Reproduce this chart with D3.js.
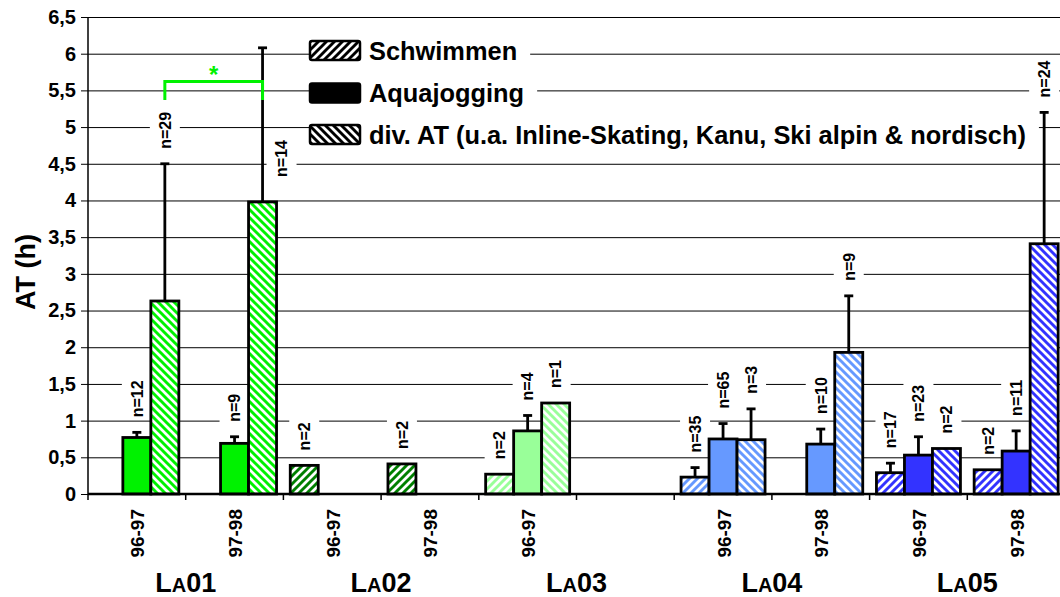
<!DOCTYPE html>
<html>
<head>
<meta charset="utf-8">
<script src="https://cdn.jsdelivr.net/npm/d3@7"></script>
<style>
  html, body { margin: 0; padding: 0; background: #fff; }
  svg { display: block; font-family: Arial, "Liberation Sans", sans-serif; }
</style>
</head>
<body>
<svg id="chart" width="1060" height="597"></svg>
<script>
// Season slots along the x axis (slot 5 is an empty spacer inside LA03)
const seasons = ["96-97", "97-98", "96-97", "97-98", "96-97", "", "96-97", "97-98", "96-97", "97-98"];
const groupOfSlot = [0, 0, 1, 1, 2, 2, 3, 3, 4, 4];
const groups = ["LA01", "LA02", "LA03", "LA04", "LA05"];
const groupColors = ["#00f200", "#008000", "#99ff99", "#6699ff", "#3333ff"];

const seriesNames = ["Schwimmen", "Aquajogging", "div. AT (u.a. Inline-Skating, Kanu, Ski alpin & nordisch)"];

// Mean training hours per series and slot
const schwimmen   = [null, null, 0.39, 0.41, 0.27, null, 0.23, null, 0.29, 0.33];
const aquajogging = [0.77, 0.69, null, null, 0.86, null, 0.75, 0.68, 0.53, 0.585];
const divAT       = [2.63, 3.98, null, null, 1.24, null, 0.74, 1.93, 0.62, 3.41];

// Standard deviations (upper whisker)
const schwimmenSD   = [null, null, null, null, null, null, 0.13, null, 0.13, null];
const aquajoggingSD = [0.07, 0.09, null, null, 0.21, null, 0.21, 0.205, 0.25, 0.275];
const divATSD       = [1.87, 2.10, null, null, null, null, 0.42, 0.77, null, 1.79];

// Sample sizes
const schwimmenN   = [null, null, 2, 2, 2, null, 35, null, 17, 2];
const aquajoggingN = [12, 9, null, null, 4, null, 65, 10, 23, 11];
const divATN       = [29, 14, null, null, 1, null, 3, 9, 2, 24];

const yTicks = [0, 0.5, 1, 1.5, 2, 2.5, 3, 3.5, 4, 4.5, 5, 5.5, 6, 6.5];

const values = [schwimmen, aquajogging, divAT];
const sds = [schwimmenSD, aquajoggingSD, divATSD];
const ns = [schwimmenN, aquajoggingN, divATN];

// ---- layout ----
const plotLeft = 88, plotTop = 17, plotBottom = 494;
const bandW = 97.7;
const svg = d3.select("#chart");

const x = d3.scaleBand().domain(d3.range(seasons.length))
  .range([plotLeft, plotLeft + bandW * seasons.length]).paddingInner(0).paddingOuter(0);
const xs = d3.scaleBand().domain([0, 1, 2]).range([6.85, bandW - 6.85]);
const y = d3.scaleLinear().domain([0, 6.5]).range([plotBottom, plotTop]);
const fmt = v => String(v).replace(".", ",");

// ---- hatch patterns ----
const defs = svg.append("defs");
function addHatch(id, color, dir) {
  const p = defs.append("pattern").attr("id", id)
    .attr("patternUnits", "userSpaceOnUse").attr("width", 8).attr("height", 8);
  p.append("rect").attr("width", 8).attr("height", 8).attr("fill", "#fff");
  const d = dir === "down"
    ? "M-2,-2L10,10M-2,6L2,10M6,-2L10,2"
    : "M-2,10L10,-2M-2,2L2,-2M6,10L10,6";
  p.append("path").attr("d", d).attr("stroke", color).attr("stroke-width", 2.9).attr("fill", "none");
}
groupColors.forEach((c, i) => { addHatch("up-" + i, c, "up"); addHatch("down-" + i, c, "down"); });
addHatch("up-k", "#000", "up");
addHatch("down-k", "#000", "down");

function fillFor(series, g) {
  if (series === 0) return `url(#up-${g})`;
  if (series === 2) return `url(#down-${g})`;
  return groupColors[g];
}

// ---- gridlines & y axis ----
const yAxis = d3.axisLeft(y).tickValues(yTicks).tickFormat(fmt)
  .tickSize(-(1060 - plotLeft + 10)).tickSizeOuter(0).tickPadding(0);
const gy = svg.append("g").attr("transform", `translate(${plotLeft},0)`).call(yAxis);
gy.select(".domain").remove();
gy.selectAll(".tick line").attr("x1", -7).attr("stroke", "#000").attr("stroke-width", 1);
gy.selectAll(".tick text")
  .attr("x", -12).attr("font-size", 20).attr("font-weight", "bold").attr("fill", "#000");

const above = svg.append("g");

// ---- legend ----
const legend = above.append("g");
const legendRows = [50.5, 93, 134.5];
seriesNames.forEach((name, i) => {
  const row = legend.append("g");
  const bg = row.append("rect").attr("fill", "#fff");
  const t = row.append("text").attr("x", 369).attr("y", legendRows[i] + 9)
    .attr("font-size", 25.4).attr("font-weight", "bold").attr("fill", "#000").text(name);
  const len = t.node().getComputedTextLength();
  bg.attr("x", 360).attr("y", legendRows[i] - 15).attr("width", 369 + len + 13 - 360).attr("height", 30);
  row.append("rect").attr("x", 310).attr("y", legendRows[i] - 9.5).attr("width", 50).attr("height", 19)
    .attr("rx", 2).attr("fill", i === 0 ? "url(#up-k)" : i === 2 ? "url(#down-k)" : "#000")
    .attr("stroke", "#000").attr("stroke-width", 2.5);
});

// ---- bars ----
const bars = [];
seasons.forEach((s, slot) => {
  values.forEach((arr, series) => {
    const v = arr[slot];
    if (v == null) return;
    bars.push({ slot, series, v, sd: sds[series][slot], n: ns[series][slot], g: groupOfSlot[slot] });
  });
});
const cx = d => x(d.slot) + xs(d.series) + xs.bandwidth() / 2;

// n=14 sits beside its whisker so it clears the significance bracket
const asideLabel = { slot: 1, series: 2, dx: 19, base: 4.32 };

const labelLayer = above.append("g");
const barLayer = above.append("g");
const errLayer = above.append("g");
const textLayer = above.append("g");

barLayer.selectAll("rect").data(bars).join("rect")
  .attr("x", d => x(d.slot) + xs(d.series))
  .attr("width", xs.bandwidth())
  .attr("y", d => y(d.v))
  .attr("height", d => y(0) - y(d.v))
  .attr("fill", d => fillFor(d.series, d.g))
  .attr("stroke", "#000").attr("stroke-width", 2.8);

const withErr = bars.filter(d => d.sd != null);
errLayer.selectAll("line.w").data(withErr).join("line").attr("class", "w")
  .attr("x1", cx).attr("x2", cx)
  .attr("y1", d => y(d.v)).attr("y2", d => y(d.v + d.sd))
  .attr("stroke", "#000").attr("stroke-width", 2.8);
errLayer.selectAll("line.c").data(withErr).join("line").attr("class", "c")
  .attr("x1", d => cx(d) - 4.5).attr("x2", d => cx(d) + 4.5)
  .attr("y1", d => y(d.v + d.sd)).attr("y2", d => y(d.v + d.sd))
  .attr("stroke", "#000").attr("stroke-width", 2.8);

// n labels (rotated, with white backing that breaks the gridlines)
bars.filter(d => d.n != null).forEach(d => {
  let lx = cx(d), ly = y(d.v + (d.sd || 0)) - 15;
  if (d.slot === asideLabel.slot && d.series === asideLabel.series) {
    lx += asideLabel.dx; ly = y(asideLabel.base);
  }
  const t = textLayer.append("text")
    .attr("transform", `translate(${lx + 5.8},${ly}) rotate(-90)`)
    .attr("font-size", 16).attr("font-weight", "bold").attr("fill", "#000").text("n=" + d.n);
  const len = t.node().getComputedTextLength();
  labelLayer.append("rect").attr("x", lx - 15).attr("width", 30)
    .attr("y", ly - len - 3).attr("height", len + 5).attr("fill", "#fff");
});

// ---- x axis ----
svg.append("line").attr("x1", plotLeft).attr("x2", 1060).attr("y1", plotBottom).attr("y2", plotBottom)
  .attr("stroke", "#000").attr("stroke-width", 2.5);
svg.append("line").attr("x1", plotLeft).attr("x2", plotLeft).attr("y1", plotTop).attr("y2", plotBottom)
  .attr("stroke", "#000").attr("stroke-width", 1.5);
svg.append("g").selectAll("line").data(d3.range(seasons.length + 1)).join("line")
  .attr("x1", i => plotLeft + i * bandW).attr("x2", i => plotLeft + i * bandW)
  .attr("y1", plotBottom).attr("y2", plotBottom + 6)
  .attr("stroke", "#000").attr("stroke-width", 1.5);

svg.append("g").selectAll("text").data(seasons.map((s, i) => ({ s, i })).filter(d => d.s))
  .join("text")
  .attr("transform", d => `translate(${x(d.i) + bandW / 2 + 7.5},509) rotate(-90)`)
  .attr("text-anchor", "end").attr("font-size", 19).attr("font-weight", "bold").attr("fill", "#000")
  .text(d => d.s);

// group labels in small caps
groups.forEach((g, i) => {
  const gx = plotLeft + (2 * i + 1) * bandW;
  const t = svg.append("text").attr("x", gx).attr("y", 592).attr("text-anchor", "middle")
    .attr("font-weight", "bold").attr("fill", "#000").attr("font-size", 27);
  t.append("tspan").text(g[0]);
  t.append("tspan").attr("font-size", 20).text(g[1]);
  t.append("tspan").text(g.slice(2));
});

// y title
svg.append("text").attr("transform", "translate(35,272) rotate(-90)")
  .attr("text-anchor", "middle").attr("font-size", 27).attr("font-weight", "bold").attr("fill", "#000")
  .text("AT (h)");

// ---- significance bracket ----
const bx1 = x(0) + xs(2) + xs.bandwidth() / 2;
const bx2 = x(1) + xs(2) + xs.bandwidth() / 2;
svg.append("path")
  .attr("d", `M${bx1},${y(5.37)}V${y(5.62)}H${bx2}V${y(5.37)}`)
  .attr("fill", "none").attr("stroke", "#00f200").attr("stroke-width", 3);
svg.append("text").attr("x", (bx1 + bx2) / 2).attr("y", y(5.62) + 1).attr("text-anchor", "middle")
  .attr("font-size", 24).attr("font-weight", "bold").attr("fill", "#00f200").text("*");
</script>
</body>
</html>
